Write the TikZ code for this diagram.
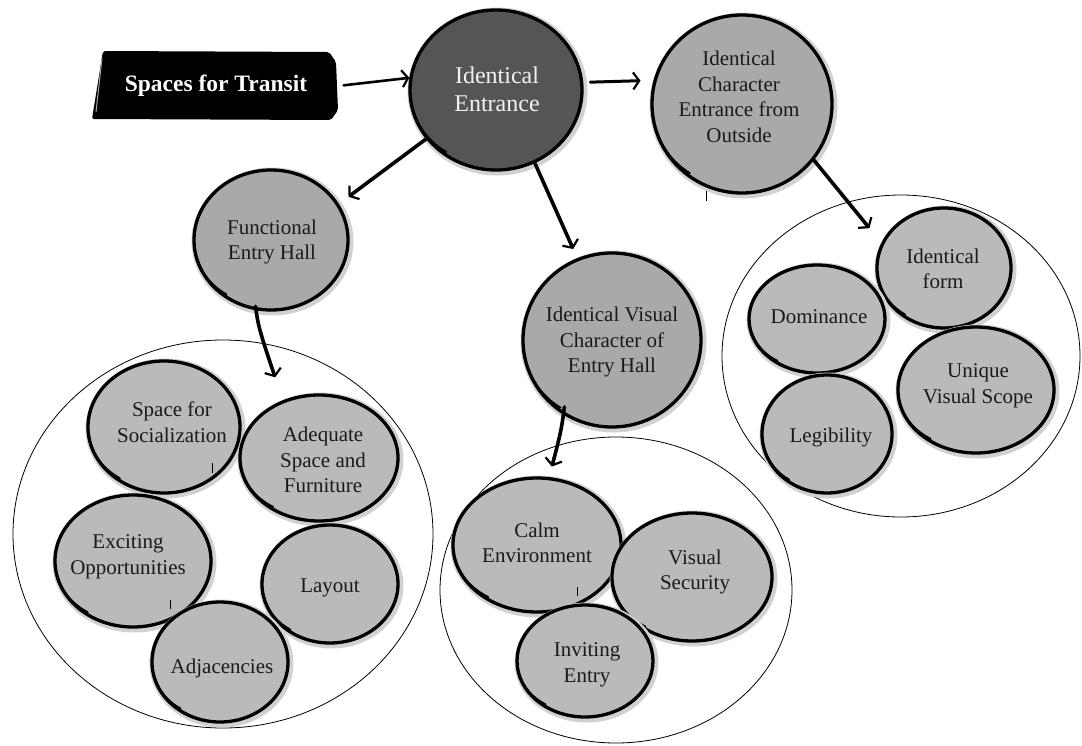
\documentclass[tikz,border=0pt]{standalone}
\usepackage{fontspec}
\setmainfont{Liberation Serif}
\usetikzlibrary{shapes.geometric,arrows.meta}
\definecolor{entfill}{HTML}{555555}
\definecolor{midfill}{HTML}{A9A9A9}
\definecolor{leaffill}{HTML}{BABABA}
\definecolor{inktext}{HTML}{1A1A1A}
\tikzset{
  bub/.style={ellipse, inner sep=0pt, draw=black, line width=3.3pt,
    preaction={draw=black!18, line width=8pt,
      transform canvas={shift={(1.5pt,-1.5pt)}}}},
  lbl/.style={align=center, text=inktext, inner sep=0pt,
    font=\fontsize{21}{25.5}\selectfont},
  grp/.style={ellipse, inner sep=0pt, draw=black, line width=0.8pt},
  conn/.style={line width=3.6pt, line cap=round,
    -{Straight Barb[length=6pt,width=17pt,line width=2.2pt]}},
  tail/.style={line width=2.2pt, line cap=round},
  tick/.style={line width=0.9pt},
}
% \bubble{name}{cx}{cy}{rx}{ry}{fill}{tx}{ty}{text}
\newcommand\bubble[9]{%
  \node[bub, fill=#6, minimum width={2*#4}, minimum height={2*#5}] (#1) at (#2,#3) {};
  \draw[tail] (#1.center) ++(165:{#4} and {#5})
    arc[start angle=165, end angle=122, x radius={0.88*#4}, y radius={0.88*#5}];
  \node[lbl] (#1-t) at (#7,#8) {#9};
}
\begin{document}
\begin{tikzpicture}[x=1pt, y=-1pt]
\useasboundingbox (0,0) rectangle (1082,745);

% group outlines
\node[grp, minimum width=420, minimum height=388] (grpL) at (223,534) {};
\node[grp, minimum width=352, minimum height=306] (grpM) at (616,590) {};
\node[grp, minimum width=358, minimum height=322] (grpR) at (901,356) {};

% title box
\fill[black, rounded corners=2pt] (103,51) -- (329,52) -- (336,62) -- (338,110)
  -- (331,120) -- (92,119) -- cycle;
\draw[black!35, line width=1pt] (96,112) -- (102,58);
\node[text=white, inner sep=0pt, minimum width=243, minimum height=68,
  font=\fontsize{23.5}{28}\selectfont\bfseries] (transit) at (216,86) {Spaces for Transit};

% main bubbles
\node[bub, fill=entfill, minimum width=172, minimum height=160] (ent) at (496,90) {};
\draw[tail] (ent.center) ++(165:86 and 80) arc[start angle=165, end angle=122, x radius=76, y radius=70];
\node[lbl, text=black!5, font=\fontsize{24}{28}\selectfont] (ent-t) at (497,89) {Identical\\Entrance};

\bubble{char}{742}{104}{90}{89}{midfill}{739}{97}{Identical\\Character\\Entrance from\\Outside}
\bubble{func}{271}{240}{77}{70}{midfill}{272}{242}{Functional\\Entry Hall}
\bubble{visual}{612}{340}{89}{87}{midfill}{612}{342}{Identical Visual\\Character of\\Entry Hall}

% left group
\bubble{soc}{164}{427}{76}{66}{leaffill}{172}{422}{Space for\\Socialization}
\bubble{adq}{319}{458}{79}{63}{leaffill}{323}{460}{Adequate\\Space and\\Furniture}
\bubble{exc}{133}{561}{78}{66}{leaffill}{128}{557}{Exciting\\Opportunities}
\bubble{lay}{330}{584}{68}{59}{leaffill}{330}{588}{Layout}
\bubble{adj}{220}{662}{68}{60}{leaffill}{222}{668}{Adjacencies}

% middle group
\bubble{calm}{537}{545}{84}{67}{leaffill}{537}{543}{Calm\\Environment}
\bubble{vsec}{692}{577}{80}{64}{leaffill}{695}{572}{Visual\\Security}
\bubble{inv}{585}{661}{68}{56}{leaffill}{587}{665}{Inviting\\Entry}

% right group
\bubble{idf}{944}{268}{67}{60}{leaffill}{943}{269}{Identical\\form}
\bubble{dom}{817}{319}{68}{54}{leaffill}{819}{317}{Dominance}
\bubble{uvs}{976}{390}{78}{63}{leaffill}{978}{386}{Unique\\Visual Scope}
\bubble{leg}{827}{434}{65}{59}{leaffill}{831}{437}{Legibility}

% small pen ticks
\draw[tick] (212,463) -- (212,473);
\draw[tick] (170,600) -- (170,609);
\draw[tick] (577,587) -- (577,596);
\draw[tick] (706,191) -- (706,201);

% connectors
\draw[conn, line width=2.6pt, shorten <=6pt] (transit.east) -- (ent.172);
\draw[conn, line width=3pt, shorten <=7pt, shorten >=13pt] (ent.5) -- (char.165);
\draw[conn, shorten >=12pt] (ent.215) -- (func.28);
\draw[conn, shorten >=10pt] (ent.-62) -- (visual.113);
\draw[conn, shorten >=-34pt] (char.-38) -- (grpR.109);
\draw[conn, shorten <=-4pt, shorten >=-36pt] (func.-102) to[bend right=6] (grpL.78);
\draw[conn, shorten <=-8pt, shorten >=-22pt] (visual.-123) to[bend left=4] (grpM.112);
\end{tikzpicture}
\end{document}
